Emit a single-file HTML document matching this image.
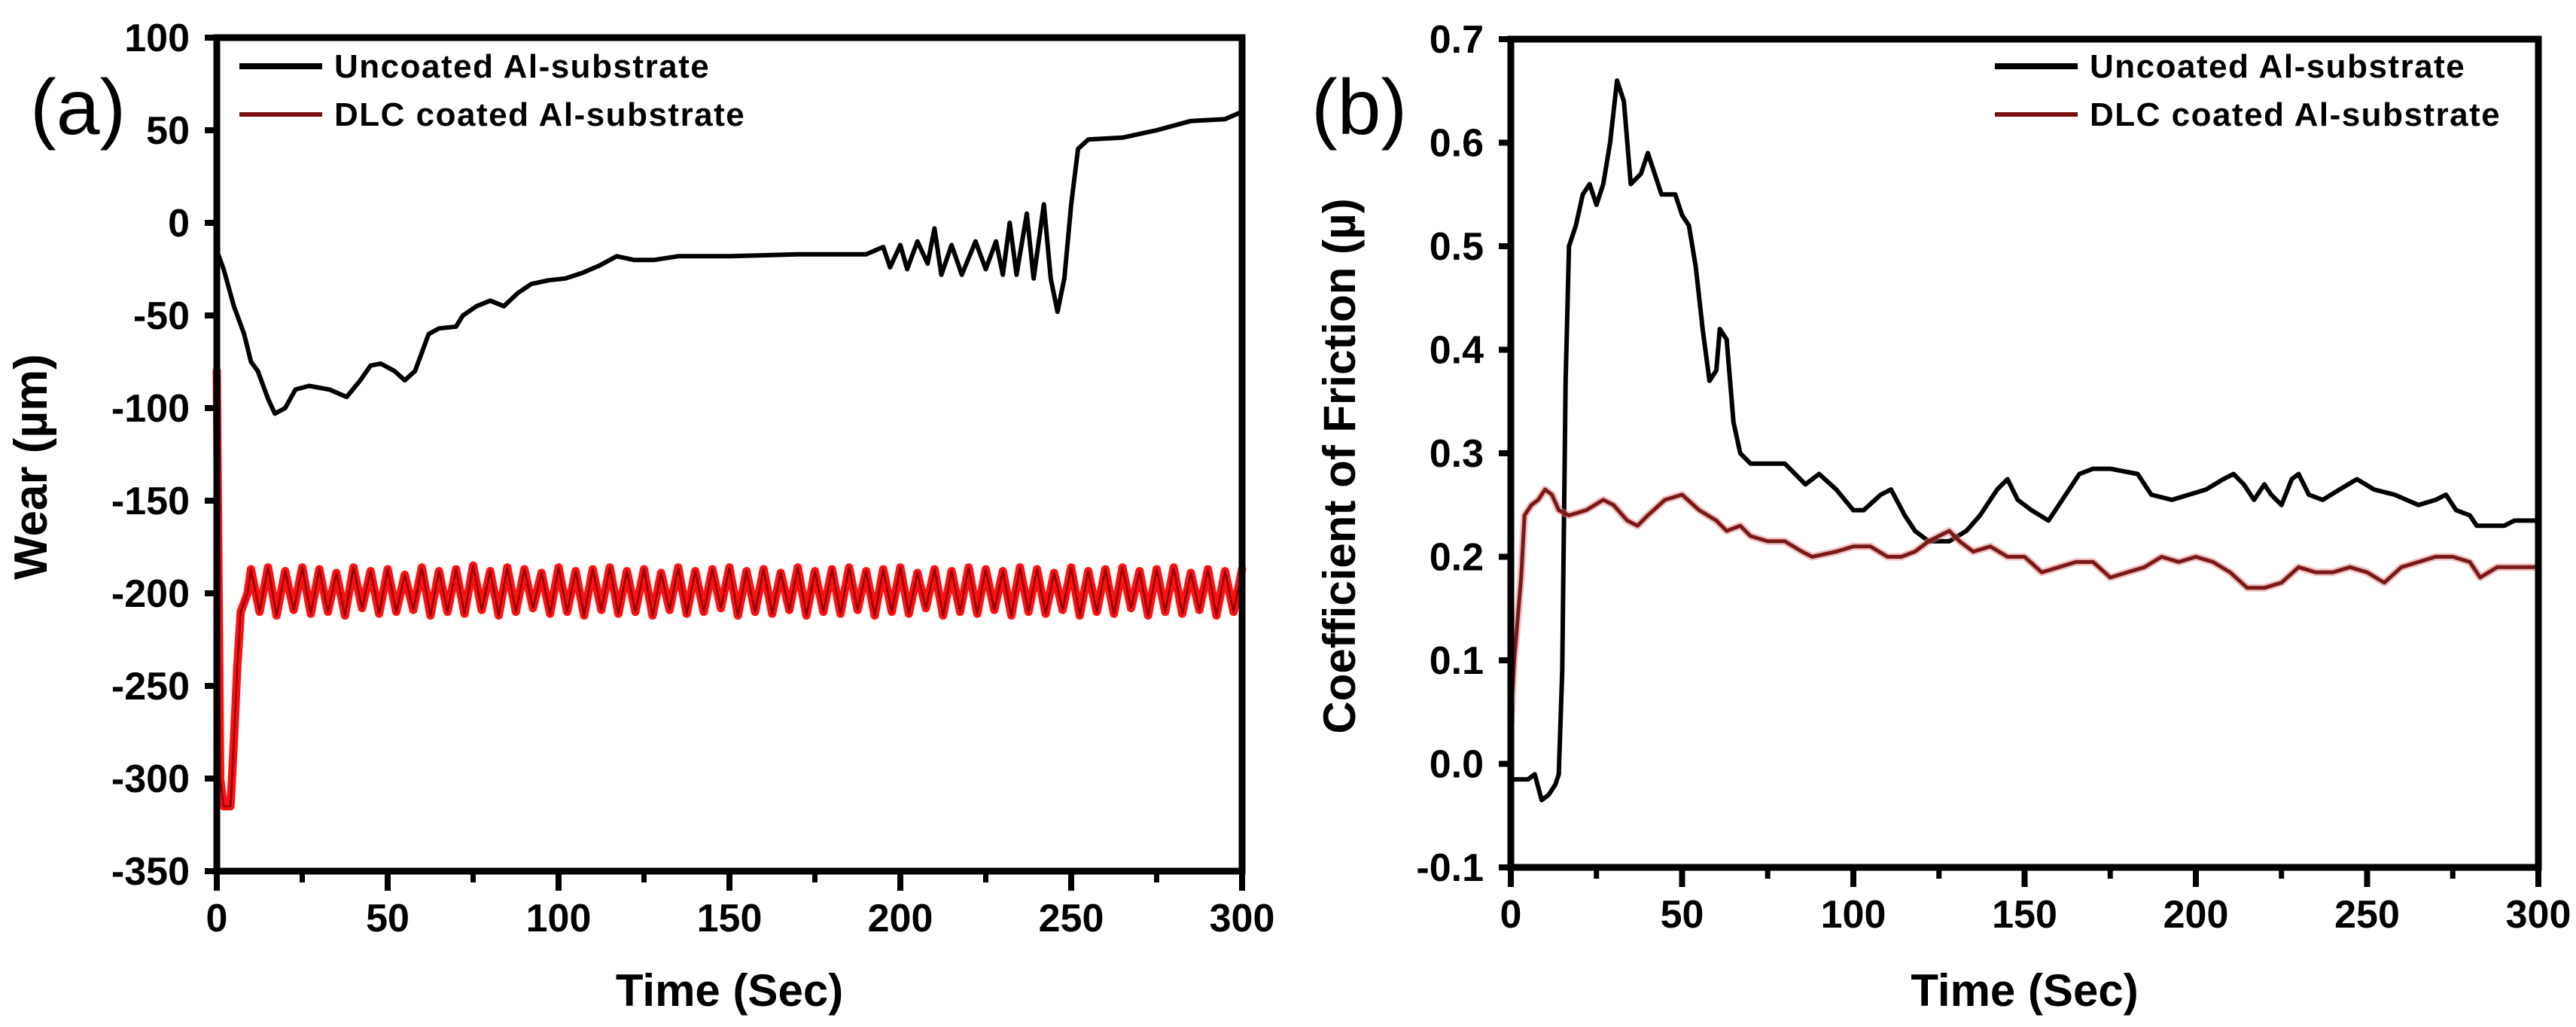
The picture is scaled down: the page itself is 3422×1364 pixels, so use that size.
<!DOCTYPE html>
<html><head><meta charset="utf-8">
<style>
html,body{margin:0;padding:0;background:#fff;}
svg{display:block;}
text{font-family:"Liberation Sans",Arial,sans-serif;}
</style></head>
<body>
<svg id="fig" width="3422" height="1364" viewBox="0 0 3422 1364" xmlns="http://www.w3.org/2000/svg"></svg>
<script>
// ---------- Panel (a) data ----------
const wearBlackT = [0,2,5,8,10,12,15,17,20,23,27,33,38,42,45,48,52,55,58,62,65,70,72,76,80,84,88,92,97,102,107,112,117,122,128,135,150,170,190,195,197,200,202,205,208,210,212,215,218,222,225,228,230,232,234,237,239,242,244,246,248,250,252,255,265,275,285,295,300];
const wearBlackV = [-15,-25,-45,-60,-75,-80,-95,-103,-100,-90,-88,-90,-94,-85,-77,-76,-80,-85,-80,-60,-57,-56,-50,-45,-42,-45,-38,-33,-31,-30,-27,-23,-18,-20,-20,-18,-18,-17,-17,-13,-24,-12,-25,-10,-22,-3,-28,-12,-28,-10,-25,-10,-28,0,-28,5,-30,10,-30,-48,-30,10,40,45,46,50,55,56,60];
const wearRedStartT = [0,1,2,4,5,6,7,9];
const wearRedStartV = [-80,-300,-315,-315,-280,-240,-210,-200];
const wearRedOscStep = 2.5;
const wearRedOscV = [-187,-210,-186,-212,-188,-209,-186,-211,-187,-210,-189,-212,-186,-208,-188,-211,-187,-210,-190,-209,-186,-212,-188,-210,-187,-211,-185,-209,-188,-212,-186,-210,-187,-208,-189,-211,-186,-210,-188,-212,-187,-209,-186,-211,-188,-210,-187,-212,-189,-209,-186,-211,-188,-210,-187,-208,-186,-212,-188,-210,-187,-211,-189,-209,-186,-212,-188,-210,-187,-211,-186,-209,-188,-212,-187,-210,-186,-211,-189,-208,-187,-212,-188,-210,-186,-211,-187,-209,-188,-212,-186,-210,-187,-211,-189,-209,-186,-212,-188,-210,-187,-211,-186,-208,-188,-212,-187,-210,-186,-211,-189,-209,-187,-212,-188,-210,-187];
const wearYTicks = [100,50,0,-50,-100,-150,-200,-250,-300,-350];
const timeTicks = [0,50,100,150,200,250,300];
const timeMinorTicks = [25,75,125,175,225,275];

// ---------- Panel (b) data ----------
const cofBlackT = [0,5,7,9,11,13,14,15,16,17,19,21,23,25,27,29,31,33,35,38,40,42,44,48,50,52,54,56,58,60,61,63,65,67,70,75,80,83,86,90,95,100,103,108,111,115,118,122,128,133,137,142,145,148,152,157,162,166,170,175,183,187,193,198,203,208,211,214,217,220,222,225,228,230,233,237,242,247,252,258,265,270,273,276,280,282,290,293,300];
const cofBlackV = [-0.015,-0.015,-0.01,-0.035,-0.03,-0.02,-0.01,0.09,0.37,0.5,0.52,0.55,0.56,0.54,0.56,0.6,0.66,0.64,0.56,0.57,0.59,0.57,0.55,0.55,0.53,0.52,0.48,0.42,0.37,0.38,0.42,0.41,0.33,0.30,0.29,0.29,0.29,0.28,0.27,0.28,0.265,0.245,0.245,0.26,0.265,0.24,0.225,0.215,0.215,0.225,0.24,0.265,0.275,0.255,0.245,0.235,0.26,0.28,0.285,0.285,0.28,0.26,0.255,0.26,0.265,0.275,0.28,0.27,0.255,0.27,0.26,0.25,0.275,0.28,0.26,0.255,0.265,0.275,0.265,0.26,0.25,0.255,0.26,0.245,0.24,0.23,0.23,0.235,0.235];
const cofRedT = [0,1,3,4,6,8,10,12,14,17,22,27,30,34,37,40,45,50,55,60,63,67,70,75,80,85,88,95,100,105,110,114,118,122,128,131,135,140,145,150,155,160,165,170,175,180,185,190,195,200,205,210,215,220,225,230,235,240,245,250,255,260,265,270,275,280,283,288,295,300];
const cofRedV = [0.04,0.1,0.18,0.24,0.25,0.255,0.265,0.26,0.245,0.24,0.245,0.255,0.25,0.235,0.23,0.24,0.255,0.26,0.245,0.235,0.225,0.23,0.22,0.215,0.215,0.205,0.2,0.205,0.21,0.21,0.2,0.2,0.205,0.215,0.225,0.215,0.205,0.21,0.2,0.2,0.185,0.19,0.195,0.195,0.18,0.185,0.19,0.2,0.195,0.2,0.195,0.185,0.17,0.17,0.175,0.19,0.185,0.185,0.19,0.185,0.175,0.19,0.195,0.2,0.2,0.195,0.18,0.19,0.19,0.19];
const cofYTicks = [0.7,0.6,0.5,0.4,0.3,0.2,0.1,0.0,-0.1];
const cofYLabels = ["0.7","0.6","0.5","0.4","0.3","0.2","0.1","0.0","-0.1"];

const NS = "http://www.w3.org/2000/svg";
const svg = document.getElementById('fig');
function mk(tag, attrs, parent){
  const e = document.createElementNS(NS, tag);
  for (const k in attrs) e.setAttribute(k, attrs[k]);
  (parent||svg).appendChild(e);
  return e;
}
function pathFrom(ts, vs, sx, sy){
  let d = '';
  for (let i=0;i<ts.length;i++){ d += (i?'L':'M') + sx(ts[i]).toFixed(1) + ',' + sy(vs[i]).toFixed(1); }
  return d;
}

function panel(o){
  const g = mk('g', {});
  
  
  const sx = t => o.x0 + (t - 0) / 300 * (o.x1 - o.x0);
  const sy = v => o.y0 + (o.ymax - v) / (o.ymax - o.ymin) * (o.y1 - o.y0);
  o.series.forEach(s => {
    if (s.halo){
      const h = mk('path', {d: pathFrom(s.t, s.v, sx, sy), fill:'none', stroke:s.halo, 'stroke-width':s.w+5, 'stroke-linejoin':'round','stroke-linecap':'round', opacity:0.5}, g);
      
      
    }
    const p = mk('path', {d: pathFrom(s.t, s.v, sx, sy), fill:'none', stroke:s.color, 'stroke-width':s.w, 'stroke-linejoin':'round','stroke-linecap':'round'}, g);
    
    
    if (s.edge){
      const e = mk('path', {d: pathFrom(s.t, s.v, sx, sy), fill:'none', stroke:s.edge, 'stroke-width':2.5, 'stroke-linejoin':'round'}, g);
      
      
    }
  });
  const f = mk('rect', {x:o.x0, y:o.y0, width:o.x1-o.x0, height:o.y1-o.y0, fill:'none', stroke:'#000', 'stroke-width':9}, g);
  
  
  o.yTicks.forEach((v,i) => {
    const y = sy(v);
    const tk = mk('line', {x1:o.x0-16, x2:o.x0, y1:y, y2:y, stroke:'#000','stroke-width':8}, g);
    
    
    const tx = mk('text', {x:o.x0-36, y:y+18, 'text-anchor':'end', 'font-size':52, 'font-weight':'bold'}, g);
    tx.textContent = o.yLabels[i];
    
    
  });
  timeTicks.forEach(t => {
    const x = sx(t);
    const tk = mk('line', {x1:x, x2:x, y1:o.y1, y2:o.y1+26, stroke:'#000','stroke-width':8}, g);
    
    
    const tx = mk('text', {x:x, y:o.y1+80, 'text-anchor':'middle', 'font-size':52, 'font-weight':'bold'}, g);
    tx.textContent = String(t);
    
    
  });
  timeMinorTicks.forEach(t => {
    const x = sx(t);
    const tk = mk('line', {x1:x, x2:x, y1:o.y1, y2:o.y1+15, stroke:'#000','stroke-width':7}, g);
    
    
  });
  const xt = mk('text', {x:(o.x0+o.x1)/2, y:1336, 'text-anchor':'middle', 'font-size':60, 'font-weight':'bold'}, g);
  xt.textContent = 'Time (Sec)';
  
  
  const yt = mk('text', {x:0, y:0, 'text-anchor':'middle', 'font-size':o.ytSize, 'font-weight':'bold', transform:`translate(${o.ytX},${o.ytY}) rotate(-90)`}, g);
  yt.textContent = o.yTitle;
  
  
  const pl = mk('text', {x:o.letterX, y:178, 'font-size':104}, g);
  pl.textContent = o.letter;
  
  
  o.legend.forEach((l,i) => {
    const y = 88 + i*64;
    const ln = mk('line', {x1:o.legX, x2:o.legX+110, y1:y, y2:y, stroke:l.color, 'stroke-width':l.w}, g);
    
    
    const tx = mk('text', {x:o.legX+126, y:y+15, 'font-size':44, 'font-weight':'bold', 'letter-spacing':1.5}, g);
    tx.textContent = l.label;
    
    
  });
}

const wearRedT = wearRedStartT.slice();
const wearRedV = wearRedStartV.slice();
wearRedOscV.forEach((v,i) => { wearRedT.push(10 + i*wearRedOscStep); wearRedV.push(v); });

panel({
  name:'panel-a-wear', letter:'(a)', letterX:40,
  x0:288, x1:1650, y0:50, y1:1157, ymin:-350, ymax:100,
  yTicks:wearYTicks, yLabels:wearYTicks.map(String),
  yTitle:'Wear (\u00b5m)', ytX:62, ytY:620, ytSize:62,
  legX:318,
  legend:[{label:'Uncoated Al-substrate', color:'#000', w:8},{label:'DLC coated Al-substrate', color:'#7a1010', w:6}],
  series:[
    {name:'dlc-wear-line', t:wearRedT, v:wearRedV, color:'#ff1010', w:11, edge:'#8a0000'},
    {name:'uncoated-wear-line', t:wearBlackT, v:wearBlackV, color:'#000', w:6}
  ]
});
panel({
  name:'panel-b-friction', letter:'(b)', letterX:1742,
  x0:2007, x1:3372, y0:52, y1:1152, ymin:-0.1, ymax:0.7,
  yTicks:cofYTicks, yLabels:cofYLabels,
  yTitle:'Coefficient of Friction (\u00b5)', ytX:1800, ytY:619, ytSize:60,
  legX:2650,
  legend:[{label:'Uncoated Al-substrate', color:'#000', w:8},{label:'DLC coated Al-substrate', color:'#7a1010', w:6}],
  series:[
    {name:'uncoated-friction-line', t:cofBlackT, v:cofBlackV, color:'#000', w:6},
    {name:'dlc-friction-line', t:cofRedT, v:cofRedV, color:'#7a1818', w:5, halo:'#e08080'}
  ]
});
</script>
</body></html>
